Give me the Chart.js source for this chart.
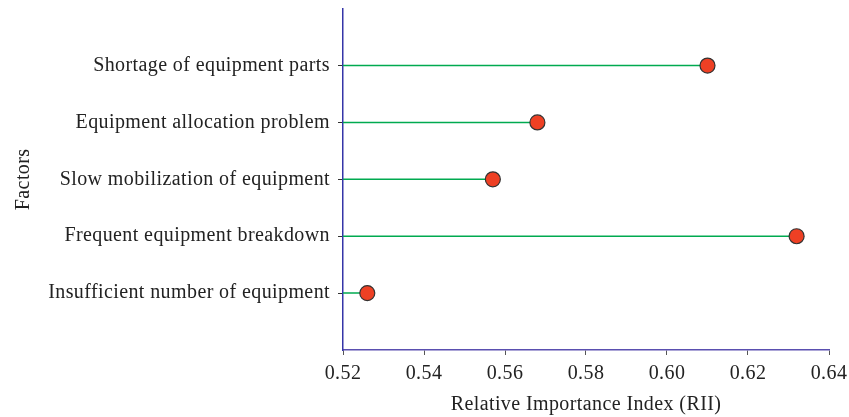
<!DOCTYPE html>
<html><head><meta charset="utf-8">
<script src="https://cdn.jsdelivr.net/npm/chart.js@4"></script>
<style>html,body{margin:0;padding:0;background:#fff}#wrap{width:849px;height:417px}</style>
</head><body><div id="wrap"><canvas id="c" width="849" height="417"></canvas></div>
<script>
const factors = ["Shortage of equipment parts","Equipment allocation problem","Slow mobilization of equipment","Frequent equipment breakdown","Insufficient number of equipment"];
const rii = [0.610, 0.568, 0.557, 0.632, 0.526];
const xTicks = [0.52, 0.54, 0.56, 0.58, 0.60, 0.62, 0.64];
const xMin = 0.52, xMax = 0.64;

const FONT = "'Liberation Serif', 'DejaVu Serif', serif";
const FS = 20;
const datasets = factors.map((f, i) => ({
  type: 'line', order: 2,
  data: [{x: xMin, y: i + 1}, {x: rii[i], y: i + 1}],
  borderColor: '#00aa50', borderWidth: 1.5, pointRadius: 0, fill: false
}));
datasets.push({
  type: 'scatter', order: 1,
  data: factors.map((f, i) => ({x: rii[i], y: i + 1})),
  backgroundColor: '#ee4024', borderColor: '#333333', borderWidth: 1.2, pointRadius: 7.5
});

const spacing = {
  id: 'spacing',
  beforeDraw(chart) { chart.ctx.letterSpacing = '0.4px'; }
};

new Chart(document.getElementById('c'), {
  type: 'scatter',
  data: { datasets },
  plugins: [spacing],
  options: {
    responsive: false, animation: false,
    layout: { padding: { top: 2, right: 20, left: 0, bottom: 0 } },
    plugins: { legend: { display: false }, tooltip: { enabled: false } },
    scales: {
      x: {
        type: 'linear', min: xMin, max: xMax,
        afterBuildTicks: s => { s.ticks = xTicks.map(v => ({value: v})); },
        afterFit: s => { s.height = 67; s.paddingRight = 0; s.paddingLeft = 0; },
        border: { color: '#5a4fb0', width: 1.5 },
        grid: { drawOnChartArea: false, drawTicks: true, tickLength: 5, color: '#555' },
        ticks: { color: '#222', font: { family: FONT, size: FS }, padding: 7, callback: v => v.toFixed(2) },
        title: { display: true, text: 'Relative Importance Index (RII)', color: '#222', font: { family: FONT, size: FS }, padding: { top: 10, bottom: 0 } }
      },
      y: {
        type: 'linear', min: 0, max: 6, reverse: true,
        afterBuildTicks: s => { s.ticks = factors.map((f, i) => ({value: i + 1})); },
        afterFit: s => { s.width = 343; s.paddingTop = 0; s.paddingBottom = 0; },
        border: { color: '#3535a8', width: 1.5 },
        grid: { drawOnChartArea: false, drawTicks: true, tickLength: 5, color: '#333' },
        ticks: { color: '#222', font: { family: FONT, size: FS }, padding: 8, callback: v => factors[v - 1] || '' },
        title: { display: true, text: 'Factors', color: '#222', font: { family: FONT, size: FS }, padding: { top: 12, bottom: 4 } }
      }
    }
  }
});
</script></body></html>
